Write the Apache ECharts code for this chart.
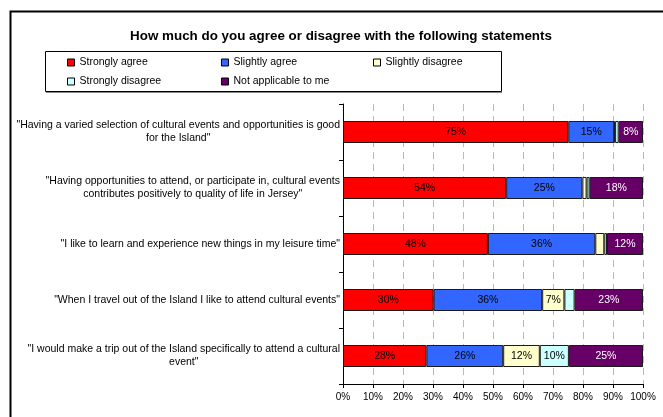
<!DOCTYPE html>
<html>
<head>
<meta charset="utf-8">
<script src="https://cdn.jsdelivr.net/npm/echarts@6/dist/echarts.min.js"></script>
<style>
  html, body { margin: 0; padding: 0; background: #fff; }
  #chart { width: 663px; height: 417px; }
</style>
</head>
<body>
<div id="chart"></div>
<script>
// Survey statements (one per bar, top to bottom)
var statements = [
  '"Having a varied selection of cultural events and opportunities is good\nfor the Island"',
  '"Having opportunities to attend, or participate in, cultural events\ncontributes positively to quality of life in Jersey"',
  '"I like to learn and experience new things in my leisure time"',
  '"When I travel out of the Island I like to attend cultural events"',
  '"I would make a trip out of the Island specifically to attend a cultural\nevent"'
];

// Response shares, percent of respondents per statement
var stronglyAgree    = [75.1, 54.4, 48.3, 30.2, 27.8];
var slightlyAgree    = [15.3, 25.4, 35.8, 36.2, 25.6];
var slightlyDisagree = [0.3, 1.4, 3.0, 7.4, 12.2];
var stronglyDisagree = [1.2, 1.0, 0.9, 3.4, 9.7];
var notApplicable    = [8.1, 17.8, 12.0, 22.8, 24.7];

var seriesNames = ['Strongly agree', 'Slightly agree', 'Slightly disagree', 'Strongly disagree', 'Not applicable to me'];
var seriesValues = [stronglyAgree, slightlyAgree, slightlyDisagree, stronglyDisagree, notApplicable];
var seriesColors = ['#ff0000', '#3366ff', '#ffffcc', '#ccffff', '#660066'];
var labelColors  = ['#000000', '#000000', '#000000', '#000000', '#ffffff'];

var xTicks = { min: 0, max: 100, interval: 10 };

var FONT = '"Liberation Sans", Arial, sans-serif';

var chart = echarts.init(document.getElementById('chart'), null, { renderer: 'canvas' });

var series = seriesNames.map(function (name, i) {
  return {
    name: name,
    type: 'bar',
    stack: 'total',
    barWidth: 22,
    data: seriesValues[i],
    itemStyle: { color: seriesColors[i], borderColor: '#1a1a1a', borderWidth: 1 },
    label: {
      show: true,
      position: 'inside',
      fontFamily: FONT,
      fontSize: 10.5,
      color: labelColors[i],
      formatter: function (p) { return p.value >= 5 ? Math.round(p.value) + '%' : ''; }
    },
    emphasis: { disabled: true }
  };
});

// Legend entries laid out in two rows inside a framed box
var legendPos = [
  { left: 67, top: 57 }, { left: 221, top: 57 }, { left: 373, top: 57 },
  { left: 67, top: 76 }, { left: 221, top: 76 }
];
var legends = seriesNames.map(function (name, i) {
  return {
    data: [name],
    left: legendPos[i].left,
    top: legendPos[i].top,
    padding: 0,
    icon: 'rect',
    itemWidth: 7,
    itemHeight: 7,
    itemGap: 0,
    selectedMode: false,
    itemStyle: { borderColor: '#000', borderWidth: 1 },
    textStyle: { fontFamily: FONT, fontSize: 10.5, color: '#000', padding: [0, 0, 0, 0] }
  };
});

chart.setOption({
  animation: false,
  backgroundColor: '#fff',
  title: {
    text: 'How much do you agree or disagree with the following statements',
    left: 336,
    top: 25,
    textAlign: 'center',
    textStyle: { fontFamily: FONT, fontSize: 13.4, fontWeight: 'bold', color: '#000' }
  },
  legend: legends,
  graphic: [
    { type: 'rect', shape: { x: 10.5, y: 11.5, width: 700, height: 500 },
      style: { fill: 'none', stroke: '#000', lineWidth: 2 }, silent: true, z: 100 },
    { type: 'rect', shape: { x: 45.5, y: 51.5, width: 456, height: 40 },
      style: { fill: 'none', stroke: '#000', lineWidth: 1 }, silent: true },
    { type: 'line', shape: { x1: 46, y1: 92.5, x2: 502, y2: 92.5 },
      style: { stroke: '#888', lineWidth: 1 }, silent: true }
  ],
  grid: { left: 343, right: 20, top: 104, bottom: 33, containLabel: false },
  xAxis: {
    type: 'value',
    min: xTicks.min,
    max: xTicks.max,
    interval: xTicks.interval,
    axisLine: { show: true, lineStyle: { color: '#000', width: 1 } },
    axisTick: { show: true, length: 4, lineStyle: { color: '#000' } },
    axisLabel: { fontFamily: FONT, fontSize: 10, color: '#000', margin: 8, formatter: '{value}%' },
    splitLine: { show: true, lineStyle: { color: '#bbbbbb', width: 1, type: [7, 5] } }
  },
  yAxis: {
    type: 'category',
    inverse: true,
    data: statements,
    axisLine: { show: true, lineStyle: { color: '#000', width: 1 } },
    axisTick: { show: true, length: 4, lineStyle: { color: '#000' } },
    axisLabel: {
      margin: 3,
      fontFamily: FONT,
      fontSize: 10.5,
      color: '#000',
      lineHeight: 13,
      formatter: function (v) {
        return v.split('\n').map(function (s) { return '{c|' + s + '}'; }).join('\n');
      },
      rich: { c: { align: 'center', fontFamily: FONT, fontSize: 10.5, lineHeight: 13, color: '#000' } }
    }
  },
  series: series
});
</script>
</body>
</html>
